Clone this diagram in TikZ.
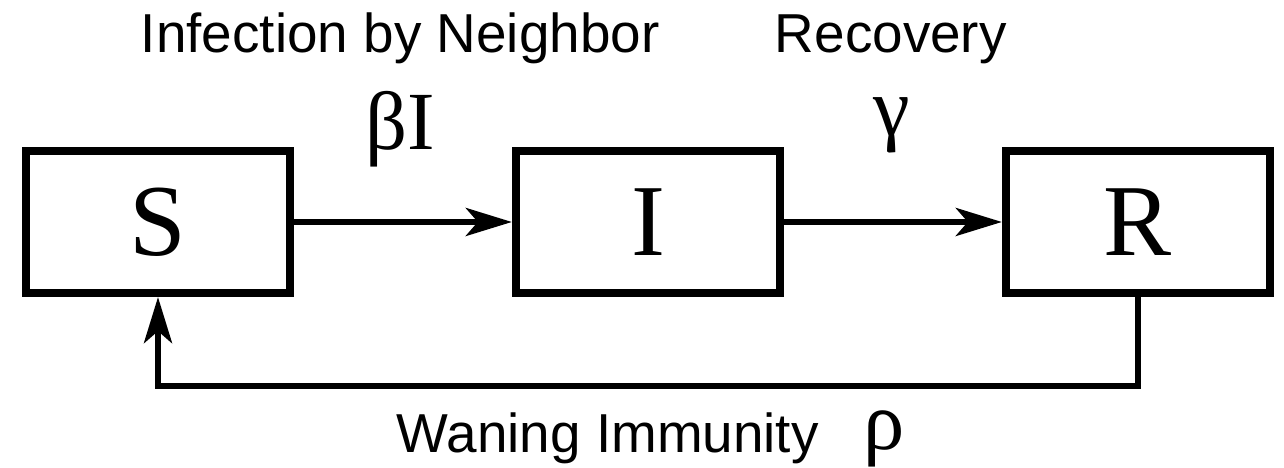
\documentclass[tikz,border=0pt]{standalone}
\usepackage{fontspec}
\setmainfont{Liberation Sans}
\newfontfamily\serif{Liberation Serif}
\usetikzlibrary{arrows.meta,positioning}
\tikzset{
  compartment/.style={draw, line width=2.3pt, minimum width=2.64cm, minimum height=1.42cm,
    inner sep=0pt, font=\serif\fontsize{29}{29}\selectfont},
  rate/.style={inner sep=0pt, font=\serif\fontsize{23.5}{23.5}\selectfont},
  caption/.style={inner sep=0pt, font=\fontsize{15.6}{15.6}\selectfont},
}
\begin{document}
\begin{tikzpicture}[x=0.01cm, y=-0.01cm, >={Stealth[length=0.46cm, width=0.28cm, inset=0.12cm]}, line width=1.7pt]
	\useasboundingbox (0,0) rectangle (1284,468);
	
	\node[compartment] (S) at (158,222) {S};
	\node[compartment] (I) at (648,222) {I};
	\node[compartment] (R) at (1138,222) {R};
	
	\node[caption, anchor=base west] (infection) at (138,53) {Infection by Neighbor};
	\node[caption, anchor=base west] (recovery) at (772,53) {Recovery};
	\node[rate, anchor=base] (beta) at (400,150) {βI};
	\node[rate, anchor=base] (gamma) at (892,136) {γ};
	
	\node[caption, anchor=base west] (waning) at (394,453) {Waning Immunity};
	\node[rate, anchor=base] (rho) at (884,450) {ρ};
	
	\coordinate (below R) at (1138,386);
	\coordinate (below S) at (158,386);
	
	\draw[->] (S) -- (I);
	\draw[->] (I) -- (R);
	\draw[->] (R.south) -- (below R) -- (below S) -- (S.south);
\end{tikzpicture}
\end{document}
